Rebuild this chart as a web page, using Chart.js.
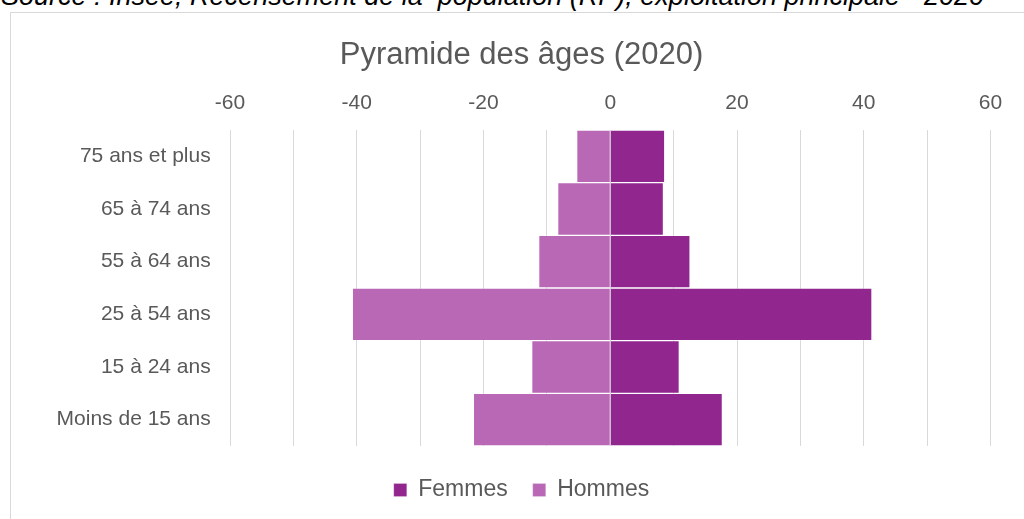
<!DOCTYPE html>
<html>
<head>
<meta charset="utf-8">
<script src="https://cdn.jsdelivr.net/npm/chart.js@4.4.1/dist/chart.umd.min.js"></script>
<style>
  html, body { margin: 0; padding: 0; width: 1024px; height: 519px; overflow: hidden; background: #fff; }
  #source { position: absolute; left: 1px; top: -17px; font: italic 27px "Liberation Sans", Arial, sans-serif; line-height: 27px; color: #000; white-space: nowrap; }
  #box { position: absolute; left: 10px; top: 12px; width: 1040px; height: 530px; border: 1px solid #d9d9d9; background: #fff; }
  #chart { position: absolute; left: 11px; top: 13px; }
</style>
</head>
<body>
<div id="source">Source : Insee, Recensement de la&nbsp; population (RP), exploitation principale - 2020</div>
<div id="box"></div>
<canvas id="chart" width="1026" height="520"></canvas>
<script>
const categories = ["75 ans et plus", "65 à 74 ans", "55 à 64 ans", "25 à 54 ans", "15 à 24 ans", "Moins de 15 ans"];
const femmes = [8.6, 8.4, 12.6, 41.3, 10.9, 17.7];
const hommes = [-5.3, -8.3, -11.3, -40.7, -12.4, -21.6];
const seriesNames = ["Femmes", "Hommes"];
const axisMin = -60, axisMax = 60, gridStep = 10, labelStep = 20;

const FONT = "'Liberation Sans', Arial, sans-serif";
const GREY = "#595959";

new Chart(document.getElementById("chart"), {
  type: "bar",
  data: {
    labels: categories,
    datasets: [
      { label: seriesNames[0], data: femmes, backgroundColor: "#91268E", borderColor: "rgba(255,255,255,0.22)", borderWidth: 1, barPercentage: 1, categoryPercentage: 1 },
      { label: seriesNames[1], data: hommes, backgroundColor: "#B968B6", borderColor: "rgba(255,255,255,0.22)", borderWidth: 1, barPercentage: 1, categoryPercentage: 1 }
    ]
  },
  options: {
    indexAxis: "y",
    responsive: false,
    animation: false,
    devicePixelRatio: 1,
    layout: { padding: { left: 41.5, right: 46.5, top: 0, bottom: 21.5 } },
    scales: {
      x: {
        position: "top",
        stacked: true,
        min: axisMin, max: axisMax,
        grid: { color: "#d9d9d9", lineWidth: 1, drawTicks: false },
        border: { display: false },
        ticks: {
          stepSize: gridStep,
          padding: 14.4,
          color: GREY,
          font: { family: FONT, size: 21 },
          callback: (v) => (v % labelStep === 0 ? String(v) : "")
        },
        afterFit: (s) => { s.height = 56.4; }
      },
      y: {
        stacked: true,
        grid: { display: false, drawTicks: false },
        border: { display: false },
        ticks: { padding: 19.3, color: GREY, font: { family: FONT, size: 21 } },
        afterFit: (s) => { s.width = 177.5; }
      }
    },
    plugins: {
      tooltip: { enabled: false },
      title: {
        display: true,
        text: "Pyramide des âges (2020)",
        color: GREY,
        font: { family: FONT, size: 31, weight: "normal" },
        padding: { top: 23.4, bottom: 0 }
      },
      legend: {
        position: "bottom",
        title: { display: true, text: "", font: { size: 5, lineHeight: 1 }, padding: { top: 0, bottom: 2.5 } },
        labels: {
          color: GREY,
          font: { family: FONT, size: 23 },
          boxWidth: 13,
          boxHeight: 13,
          padding: 25
        }
      }
    }
  }
});
</script>
</body>
</html>
